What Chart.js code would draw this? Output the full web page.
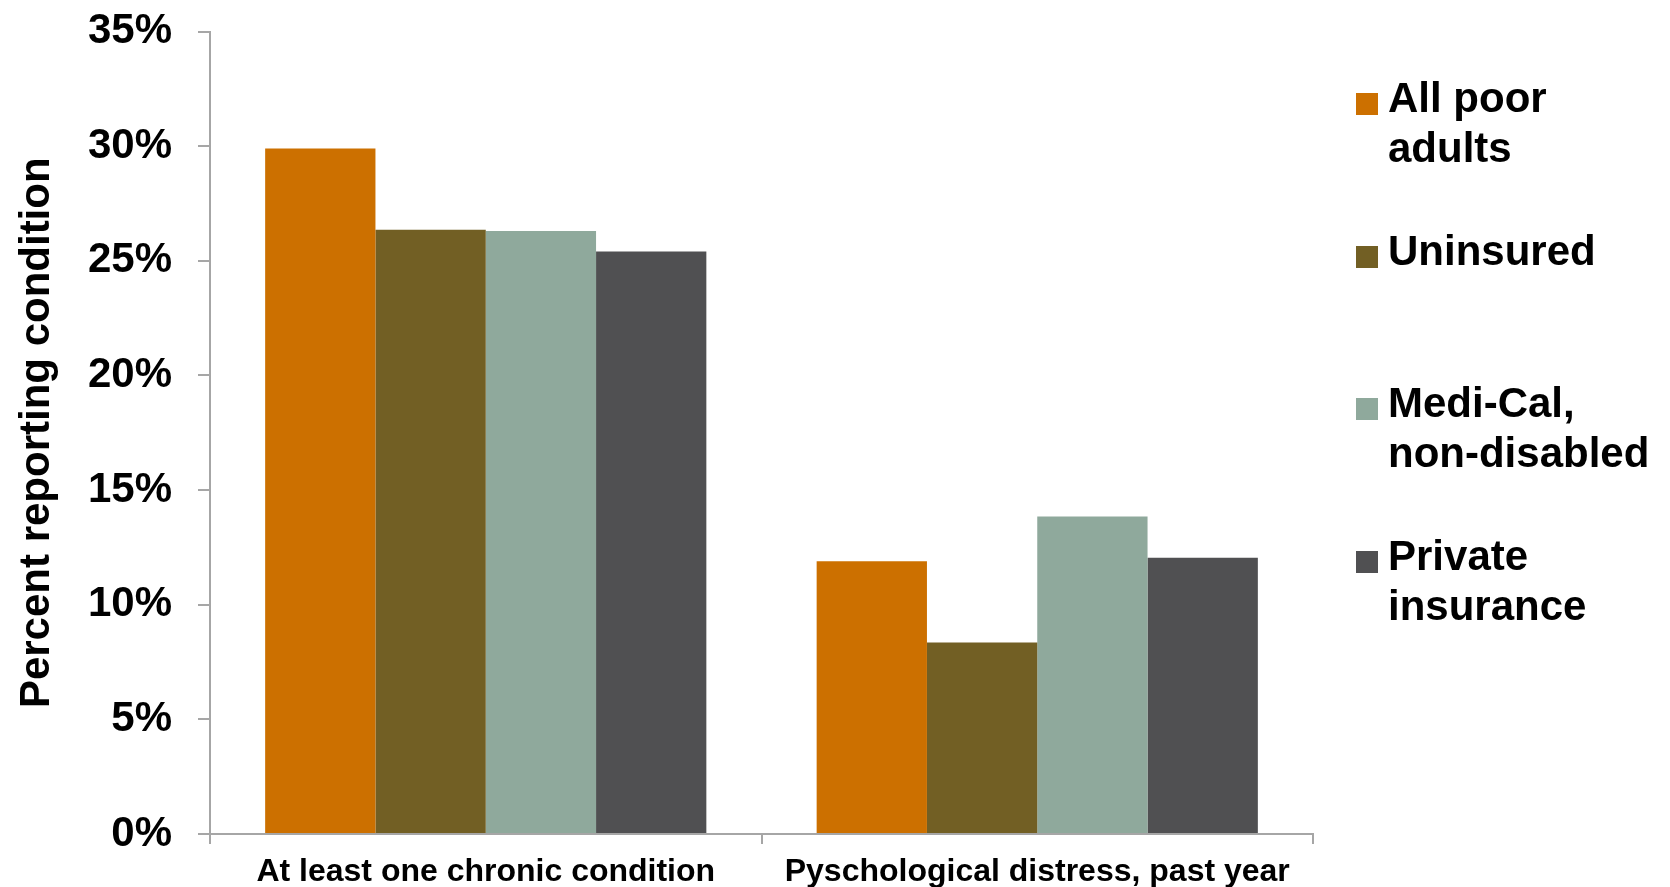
<!DOCTYPE html>
<html>
<head>
<meta charset="utf-8">
<script src="https://cdn.jsdelivr.net/npm/chart.js@4/dist/chart.umd.min.js"></script>
<style>
  html, body { margin: 0; padding: 0; background: #ffffff; }
  #wrap { position: relative; width: 1670px; height: 887px; overflow: hidden; background: #ffffff; }
  #c { position: absolute; left: 0; top: 0; }
  #legend { position: absolute; left: 1356px; top: 0; font-family: "Liberation Sans", Arial, sans-serif; font-weight: bold; font-size: 42px; line-height: 50px; color: #000; }
  .item { position: absolute; left: 0; width: 320px; }
  .box { position: absolute; left: 0; top: 20px; width: 22px; height: 22px; }
  .txt { position: absolute; left: 32px; top: 0; white-space: pre; }
</style>
</head>
<body>
<div id="wrap">
  <canvas id="c" width="1670" height="887"></canvas>
  <div id="legend"></div>
</div>
<script>
// ---- data ----
const categories = ["At least one chronic condition", "Pyschological distress, past year"];
const seriesNames = ["All poor\nadults", "Uninsured", "Medi-Cal,\nnon-disabled", "Private\ninsurance"];
const allPoorAdults = [29.9, 11.9];
const uninsured = [26.35, 8.35];
const mediCalNonDisabled = [26.3, 13.85];
const privateInsurance = [25.4, 12.05];
const yTickValues = [0, 5, 10, 15, 20, 25, 30, 35];
const yAxisTitle = "Percent reporting condition";

// ---- styles ----
const seriesColors = ["#CC7000", "#725F24", "#8FA99C", "#505052"];
const FONT = "'Liberation Sans', Arial, sans-serif";
const AXIS_GRAY = "#A6A6A6";
const seriesValues = [allPoorAdults, uninsured, mediCalNonDisabled, privateInsurance];

const datasets = seriesNames.map((name, i) => ({
  label: name,
  data: seriesValues[i],
  backgroundColor: seriesColors[i],
  borderWidth: 0
}));

const chart = new Chart(document.getElementById('c'), {
  type: 'bar',
  data: { labels: categories, datasets: datasets },
  options: {
    responsive: false,
    animation: false,
    devicePixelRatio: 1,
    layout: { padding: { left: 0, right: 357, top: 31.5, bottom: 0 } },
    datasets: { bar: { categoryPercentage: 0.8, barPercentage: 1.0 } },
    plugins: { legend: { display: false }, tooltip: { enabled: false } },
    scales: {
      x: {
        grid: { display: true, drawOnChartArea: false, drawTicks: true, tickLength: 10, color: AXIS_GRAY, lineWidth: 2, offset: true },
        border: { display: true, color: AXIS_GRAY, width: 2 },
        ticks: { color: '#000', font: { family: FONT, weight: 'bold', size: 32 }, padding: 9, maxRotation: 0, autoSkip: false },
        afterFit: (s) => { s.height = 53; }
      },
      y: {
        min: 0, max: 35,
        afterBuildTicks: (s) => { s.ticks = yTickValues.map(v => ({ value: v })); },
        ticks: { color: '#000', font: { family: FONT, weight: 'bold', size: 42 }, padding: 26, callback: (v) => v + '%' },
        grid: { display: true, drawOnChartArea: false, drawTicks: true, tickLength: 12, color: AXIS_GRAY, lineWidth: 2 },
        border: { display: true, color: AXIS_GRAY, width: 2 },
        title: { display: true, text: yAxisTitle, color: '#000', font: { family: FONT, weight: 'bold', size: 42, lineHeight: 1 }, padding: { top: 16, bottom: 0 } },
        afterFit: (s) => { s.width = 210; s.paddingTop = 0; s.paddingBottom = 0; }
      }
    }
  }
});

// ---- HTML legend built from the chart datasets ----
const legendEl = document.getElementById('legend');
const slotTop = 73, slotStep = 152.7;
chart.data.datasets.forEach((ds, i) => {
  const item = document.createElement('div');
  item.className = 'item';
  item.style.top = (slotTop + i * slotStep) + 'px';
  const box = document.createElement('div');
  box.className = 'box';
  box.style.background = ds.backgroundColor;
  const txt = document.createElement('div');
  txt.className = 'txt';
  txt.textContent = ds.label;
  item.appendChild(box);
  item.appendChild(txt);
  legendEl.appendChild(item);
});
</script>
</body>
</html>
